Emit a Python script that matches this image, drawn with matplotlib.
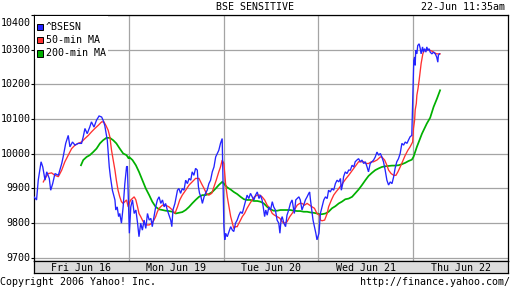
import matplotlib
matplotlib.use("Agg")
import matplotlib.pyplot as plt
from matplotlib.patches import Rectangle
from matplotlib import transforms

# ---------------- data ----------------
SESSION_MIN = 335  # 9:55 - 15:30 trading session, minutes
day_labels = ["Fri Jun 16", "Mon Jun 19", "Tue Jun 20", "Wed Jun 21", "Thu Jun 22"]
y_ticks = [9700, 9800, 9900, 10000, 10100, 10200, 10300, 10400]
title = "BSE SENSITIVE"
stamp = "22-Jun 11:35am"
series_names = ["^BSESN", "50-min MA", "200-min MA"]

# (minutes after open, index value) per day
bsesn_fri = [(0,9876),(9,9867),(15,9924),(25,9977),(31,9962),(39,9924),(45,9948),(54,9929),(59,9895),(66,9914),
             (74,9943),(86,9938),(98,9972),(103,9991),(112,10030),(121,10053),(127,10020),(136,10034),(145,10025),(156,10030),
             (168,10030),(174,10049),(180,10073),(188,10058),(197,10077),(203,10092),(212,10077),(221,10097),(230,10109),(239,10106),
             (244,10097),(250,10082),(259,10039),(266,9962),(270,9934),(277,9895),(286,9867),(289,9838),(294,9847),(299,9819),
             (303,9828),(309,9800),(315,9847),(321,9914),(327,9962),(330,9964)]
bsesn_mon = [(2,9771),(7,9847),(13,9867),(19,9828),(25,9838),(31,9800),(36,9761),(42,9800),(48,9780),(54,9809),
             (60,9785),(66,9828),(72,9809),(78,9814),(83,9790),(89,9819),(95,9847),(101,9867),(107,9876),(113,9857),
             (119,9867),(125,9847),(130,9857),(136,9838),(142,9823),(148,9809),(152,9790),(156,9838),(163,9857),(172,9895),
             (177,9900),(183,9886),(189,9900),(195,9895),(201,9924),(207,9914),(213,9929),(219,9924),(224,9948),(230,9938),
             (236,9958),(242,9953),(246,9905),(250,9886),(255,9876),(260,9857),(266,9876),(271,9886),(277,9895),(283,9914),
             (289,9924),(295,9948),(301,9962),(307,9991),(313,10001),(318,10010),(324,10030),(330,10044)]
bsesn_tue = [(1,9790),(4,9752),(7,9771),(13,9761),(19,9776),(25,9790),(31,9780),(36,9776),(42,9800),(48,9809),
             (54,9823),(60,9833),(66,9828),(72,9847),(78,9867),(83,9881),(89,9871),(95,9886),(101,9876),(107,9867),
             (113,9881),(119,9890),(125,9871),(130,9881),(136,9867),(140,9847),(145,9819),(149,9838),(154,9823),(160,9847),
             (166,9838),(172,9862),(177,9847),(183,9838),(189,9809),(195,9800),(199,9771),(203,9809),(207,9819),(213,9800),
             (219,9790),(224,9823),(230,9838),(236,9857),(242,9867),(246,9847),(250,9828),(255,9867),(260,9871),(266,9876),
             (271,9867),(277,9838),(283,9852),(289,9867),(295,9876),(301,9886),(304,9890),(307,9867),(313,9828),(316,9809),
             (321,9790),(326,9771),(330,9752)]
bsesn_wed = [(2,9771),(7,9828),(13,9847),(19,9867),(25,9876),(31,9871),(36,9895),(42,9890),(48,9900),(54,9895),
             (60,9914),(66,9924),(72,9919),(78,9929),(81,9895),(86,9914),(89,9934),(95,9948),(101,9943),(107,9953),
             (113,9953),(119,9967),(125,9962),(130,9977),(136,9982),(142,9986),(148,9977),(154,9982),(160,9972),(166,9977),
             (172,9962),(177,9948),(183,9972),(189,9977),(195,9982),(201,9991),(207,10005),(213,9996),(219,10001),(224,9991),
             (230,9977),(236,9953),(242,9924),(248,9910),(254,9919),(260,9914),(266,9934),(271,9958),(277,9977),(283,9986),
             (289,10001),(295,10030),(301,10025),(307,10034),(313,10030),(318,10039),(324,10049),(330,10053)]
bsesn_thu = [(2,10269),(5,10279),(7,10255),(9,10298),(13,10288),(16,10312),(21,10317),(25,10303),(28,10288),(33,10308),
             (36,10293),(40,10303),(45,10293),(48,10308),(52,10298),(56,10303),(60,10293),(66,10288),(72,10293),(78,10288),
             (83,10279),(87,10264),(89,10284),(93,10288)]

ma50_fri = [(33,9919),(39,9929),(50,9943),(62,9945),(74,9938),(86,9934),(98,9953),(109,9977),(121,9996),(133,10015),
            (145,10025),(156,10030),(168,10034),(180,10044),(192,10053),(203,10063),(215,10073),(227,10082),(239,10092),(247,10092),
            (254,10082),(262,10068),(268,10049),(274,10010),(280,9982),(286,9953),(291,9924),(297,9895),(303,9876),(309,9862),
            (315,9857),(321,9862),(327,9867),(333,9847)]
ma50_mon = [(1,9857),(7,9867),(19,9876),(25,9867),(31,9847),(36,9828),(42,9819),(48,9809),(54,9800),(62,9795),
            (72,9795),(81,9800),(89,9809),(95,9819),(101,9833),(107,9843),(119,9852),(130,9852),(142,9847),(154,9838),
            (163,9828),(172,9847),(180,9867),(189,9881),(201,9895),(213,9910),(224,9919),(236,9929),(248,9929),(257,9914),
            (266,9900),(274,9886),(283,9881),(293,9886),(301,9905),(309,9924),(318,9948),(324,9962),(330,9982)]
ma50_tue = [(1,9972),(4,9943),(7,9914),(13,9876),(19,9847),(25,9819),(31,9800),(36,9785),(42,9790),(48,9790),
            (54,9800),(60,9809),(66,9819),(74,9828),(83,9843),(93,9857),(101,9867),(109,9876),(119,9881),(128,9881),
            (136,9876),(145,9867),(154,9852),(163,9843),(172,9828),(180,9823),(189,9819),(199,9814),(207,9804),(215,9800),
            (224,9804),(234,9819),(242,9828),(250,9838),(260,9852),(269,9857),(277,9857),(286,9852),(295,9857),(304,9852),
            (313,9847),(321,9843),(330,9828)]
ma50_wed = [(4,9823),(7,9809),(13,9807),(22,9809),(31,9828),(36,9847),(46,9867),(54,9881),(62,9890),(72,9900),
            (81,9910),(89,9919),(98,9929),(107,9938),(116,9948),(125,9958),(133,9967),(142,9977),(152,9977),(160,9977),
            (168,9972),(177,9972),(187,9977),(195,9977),(207,9982),(219,9991),(224,9991),(234,9982),(242,9967),(248,9953),
            (257,9943),(266,9938),(274,9938),(281,9948),(289,9962),(297,9977),(307,9996),(316,10010),(324,10020),(333,10034)]
ma50_thu = [(1,10073),(5,10097),(7,10126),(11,10145),(13,10169),(17,10188),(21,10212),(25,10241),(28,10260),(31,10274),
            (34,10288),(39,10298),(45,10298),(54,10300),(60,10298),(66,10296),(72,10293),(78,10290),(83,10288),(89,10288),
            (95,10288)]

ma200_fri = [(166,9967),(174,9982),(186,9991),(197,9996),(209,10005),(221,10015),(233,10030),(244,10039),(256,10046),(268,10046),
             (280,10039),(291,10030),(303,10015),(315,10001),(327,9996),(335,9986)]
ma200_mon = [(1,9991),(13,9982),(25,9967),(36,9948),(48,9924),(60,9900),(72,9881),(83,9862),(95,9847),(107,9840),
             (119,9838),(130,9836),(142,9835),(154,9833),(166,9828),(177,9830),(189,9832),(201,9838),(213,9847),(224,9857),
             (236,9867),(248,9876),(260,9881),(271,9881),(283,9884),(295,9890),(307,9900),(318,9910),(330,9919)]
ma200_tue = [(1,9914),(13,9903),(25,9897),(36,9890),(48,9884),(60,9876),(72,9869),(83,9867),(95,9867),(107,9864),
             (119,9864),(130,9862),(142,9857),(154,9847),(166,9840),(177,9836),(189,9836),(201,9838),(213,9838),(224,9838),
             (236,9838),(248,9836),(260,9835),(271,9835),(283,9833),(295,9833),(307,9831),(318,9830),(330,9828)]
ma200_wed = [(4,9826),(13,9826),(25,9828),(36,9833),(48,9843),(60,9849),(72,9857),(83,9862),(95,9869),(107,9871),
             (119,9876),(130,9886),(142,9897),(154,9910),(166,9924),(177,9936),(189,9945),(201,9953),(213,9958),(224,9962),
             (236,9964),(248,9965),(260,9966),(271,9966),(283,9967),(295,9970),(307,9974),(318,9979),(330,9983)]
ma200_thu = [(1,9991),(13,10020),(31,10058),(48,10087),(60,10104),(72,10135),(84,10159),(95,10183)]

bsesn = [bsesn_fri, bsesn_mon, bsesn_tue, bsesn_wed, bsesn_thu]
ma50 = [ma50_fri, ma50_mon, ma50_tue, ma50_wed, ma50_thu]
ma200 = [ma200_fri, ma200_mon, ma200_tue, ma200_wed, ma200_thu]

COL_BLUE = "#2424ff"
COL_RED = "#ff3030"
COL_GREEN = "#00b000"
GRID = "#a4a4a4"
BAND = "#dcdcdc"


def flatten(per_day):
    xs, ys = [], []
    for d, pts in enumerate(per_day):
        for m, v in pts:
            xs.append(d + m / SESSION_MIN)
            ys.append(v)
    return xs, ys


W, H = 512, 288
plt.rcParams["font.family"] = ["DejaVu Sans Mono", "DejaVu Sans"]
FS = 7.2
fig = plt.figure(figsize=(W / 100, H / 100), dpi=100)
fig.patch.set_facecolor("white")

L, R, T, B = 34, 508, 15, 260.5
ax = fig.add_axes([L / W, 1 - B / H, (R - L) / W, (B - T) / H])
ax.set_xlim(0, len(day_labels))
ax.set_ylim(9692.5, 10399)
ax.set_xticks(range(1, len(day_labels)))
ax.set_yticks(y_ticks)
ax.set_xticklabels([])
ax.set_yticklabels([])
ax.tick_params(axis="x", length=0)
ax.tick_params(axis="y", direction="out", length=2, width=0.8, color="black")
ax.grid(True, color=GRID, linewidth=0.9)
ax.set_axisbelow(True)
for s in ax.spines.values():
    s.set_color("black")
    s.set_linewidth(0.9)

for data, col, lw, z in [(ma200, COL_GREEN, 1.25, 2), (ma50, COL_RED, 0.95, 3), (bsesn, COL_BLUE, 0.95, 4)]:
    xs, ys = flatten(data)
    ax.plot(xs, ys, color=col, linewidth=lw, zorder=z, solid_joinstyle="miter")

# y labels
tr = transforms.blended_transform_factory(fig.transFigure, ax.transData)
for v in y_ticks:
    if v == y_ticks[-1]:
        ax.text(30.5 / W, v, str(v), transform=transforms.offset_copy(tr, fig=fig, y=-2.2, units="points"),
                ha="right", va="top", fontsize=FS)
    else:
        ax.text(30.5 / W, v, str(v), transform=tr, ha="right", va="center", fontsize=FS)

# legend (manual, Yahoo style)
ax.add_patch(Rectangle((34.8 / W, 1 - 59 / H), (108 - 34.8) / W, (59 - 15.8) / H, transform=fig.transFigure,
                       facecolor="white", edgecolor="none", zorder=5, clip_on=False))
for i, (name, col) in enumerate(zip(series_names, [COL_BLUE, COL_RED, COL_GREEN])):
    cy = 26.7 + 13.4 * i
    ax.add_patch(Rectangle((37 / W, 1 - (cy + 3) / H), 6 / W, 6 / H, transform=fig.transFigure,
                           facecolor=col, edgecolor="black", linewidth=0.7, zorder=6, clip_on=False))
    fig.text(45.5 / W, 1 - cy / H, name, ha="left", va="center", fontsize=FS, zorder=7)

# day band
bax = fig.add_axes([L / W, 1 - 273.3 / H, (R - L) / W, (273.3 - B) / H])
bax.set_facecolor(BAND)
bax.set_xlim(0, len(day_labels))
bax.set_ylim(0, 1)
bax.set_xticks([])
bax.set_yticks([])
for s in bax.spines.values():
    s.set_color("black")
    s.set_linewidth(0.9)
for i, lab in enumerate(day_labels):
    bax.text(i + 0.5, 0.45, lab, ha="center", va="center", fontsize=FS)

fig.text(255 / W, 1 - 7 / H, title, ha="center", va="center", fontsize=FS)
fig.text(505 / W, 1 - 7 / H, stamp, ha="right", va="center", fontsize=FS)
fig.text(0 / W, 1 - 282 / H, "Copyright 2006 Yahoo! Inc.", ha="left", va="center", fontsize=FS)
fig.text(510 / W, 1 - 282 / H, "http://finance.yahoo.com/", ha="right", va="center", fontsize=FS)

fig.savefig("out.png", dpi=100, facecolor="white")
